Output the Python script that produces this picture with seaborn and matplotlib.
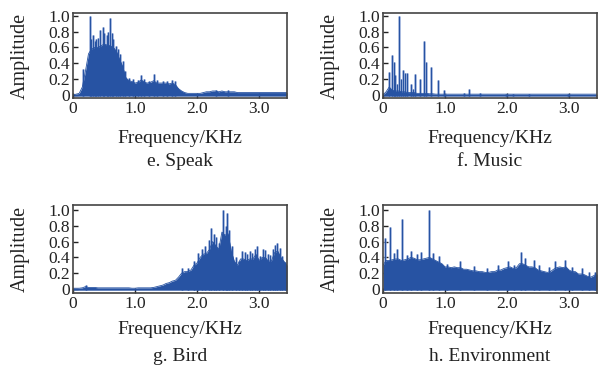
import numpy as np
import pandas as pd
import matplotlib
matplotlib.use("Agg")
import matplotlib.pyplot as plt
import seaborn as sns

# spectrum envelopes, one value every 0.05 kHz (0 .. 3.45)
STEP = 0.05

speak_body = [0.00, 0.01, 0.02, 0.10, 0.30, 0.52, 0.58, 0.60, 0.60, 0.62,
              0.64, 0.63, 0.62, 0.60, 0.55, 0.45, 0.36, 0.22, 0.18, 0.17,
              0.15, 0.16, 0.19, 0.16, 0.15, 0.16, 0.18, 0.15, 0.15, 0.15,
              0.15, 0.14, 0.15, 0.13, 0.08, 0.05, 0.03, 0.02, 0.02, 0.02,
              0.02, 0.02, 0.03, 0.04, 0.04, 0.05, 0.05, 0.04, 0.05, 0.04,
              0.04, 0.04, 0.04, 0.03, 0.03, 0.03, 0.03, 0.03, 0.03, 0.03,
              0.03, 0.03, 0.03, 0.03, 0.03, 0.03, 0.03, 0.03, 0.03, 0.03]
speak_peak_f = [0.16, 0.27, 0.29, 0.32, 0.35, 0.37, 0.41, 0.44, 0.48, 0.50,
                0.54, 0.57, 0.60, 0.63, 0.65, 0.69, 0.72, 0.76, 0.80, 0.84,
                0.90, 0.97, 1.05, 1.10, 1.15, 1.22, 1.30, 1.36, 1.45, 1.52,
                1.60, 1.65, 2.30, 2.50]
speak_peak_a = [0.33, 1.00, 0.70, 0.75, 0.68, 0.71, 0.72, 0.82, 0.86, 0.78,
                0.75, 0.80, 0.97, 0.78, 0.71, 0.62, 0.58, 0.52, 0.43, 0.30,
                0.21, 0.20, 0.19, 0.25, 0.20, 0.18, 0.26, 0.19, 0.18, 0.18,
                0.19, 0.17, 0.06, 0.06]

music_body = [0.00, 0.04, 0.10, 0.06, 0.05, 0.05, 0.04, 0.04, 0.03, 0.03,
              0.03, 0.02, 0.02, 0.02, 0.02, 0.015, 0.015, 0.01, 0.01, 0.01,
              0.01, 0.01, 0.01, 0.01, 0.01, 0.01, 0.01, 0.01, 0.01, 0.01,
              0.01, 0.01, 0.01, 0.01, 0.01, 0.01, 0.01, 0.01, 0.01, 0.01,
              0.01, 0.01, 0.01, 0.01, 0.01, 0.01, 0.01, 0.01, 0.01, 0.01,
              0.01, 0.01, 0.01, 0.01, 0.01, 0.01, 0.01, 0.01, 0.01, 0.01,
              0.01, 0.01, 0.01, 0.01, 0.01, 0.01, 0.01, 0.01, 0.01, 0.01]
music_peak_f = [0.10, 0.14, 0.18, 0.20, 0.23, 0.26, 0.29, 0.33, 0.35, 0.39,
                0.45, 0.48, 0.52, 0.59, 0.66, 0.69, 0.78, 0.88, 0.98, 1.31,
                1.39, 1.56, 1.99, 2.10, 2.36, 2.99]
music_peak_a = [0.29, 0.50, 0.42, 0.25, 0.14, 1.00, 0.20, 0.31, 0.28, 0.28,
                0.14, 0.08, 0.27, 0.20, 0.68, 0.42, 0.35, 0.19, 0.06, 0.02,
                0.08, 0.03, 0.015, 0.015, 0.01, 0.01]

bird_body = [0.01, 0.01, 0.01, 0.015, 0.03, 0.02, 0.02, 0.02, 0.015, 0.015,
             0.015, 0.015, 0.015, 0.015, 0.015, 0.015, 0.015, 0.015, 0.015, 0.01,
             0.01, 0.015, 0.015, 0.015, 0.015, 0.015, 0.02, 0.03, 0.04, 0.05,
             0.07, 0.08, 0.10, 0.11, 0.15, 0.20, 0.22, 0.22, 0.24, 0.30,
             0.33, 0.40, 0.44, 0.45, 0.50, 0.60, 0.55, 0.50, 0.72, 0.68,
             0.70, 0.48, 0.35, 0.30, 0.38, 0.38, 0.36, 0.38, 0.38, 0.44,
             0.36, 0.40, 0.40, 0.35, 0.36, 0.46, 0.48, 0.40, 0.35, 0.30]
bird_peak_f = [0.21, 1.76, 1.86, 1.95, 2.02, 2.08, 2.13, 2.19, 2.23, 2.27,
               2.30, 2.35, 2.42, 2.46, 2.48, 2.51, 2.56, 2.62, 2.67, 2.73,
               2.78, 2.81, 2.85, 2.89, 2.93, 2.97, 3.02, 3.06, 3.10, 3.14,
               3.18, 3.22, 3.25, 3.29, 3.33, 3.37, 3.42]
bird_peak_a = [0.05, 0.26, 0.27, 0.36, 0.45, 0.50, 0.54, 0.62, 0.77, 0.70,
               0.66, 0.58, 1.00, 0.80, 0.96, 0.75, 0.55, 0.40, 0.36, 0.48,
               0.47, 0.44, 0.48, 0.46, 0.50, 0.55, 0.42, 0.50, 0.49, 0.44,
               0.43, 0.50, 0.56, 0.58, 0.52, 0.42, 0.34]

env_body = [0.30, 0.36, 0.36, 0.37, 0.38, 0.38, 0.36, 0.37, 0.38, 0.40,
            0.39, 0.37, 0.37, 0.38, 0.39, 0.40, 0.38, 0.36, 0.34, 0.32,
            0.28, 0.28, 0.27, 0.28, 0.27, 0.27, 0.25, 0.25, 0.24, 0.23,
            0.23, 0.22, 0.22, 0.21, 0.21, 0.22, 0.22, 0.24, 0.24, 0.26,
            0.27, 0.28, 0.26, 0.27, 0.32, 0.32, 0.30, 0.28, 0.28, 0.27,
            0.24, 0.23, 0.22, 0.21, 0.22, 0.25, 0.27, 0.28, 0.27, 0.28,
            0.24, 0.22, 0.22, 0.19, 0.19, 0.18, 0.16, 0.15, 0.17, 0.19]
env_peak_f = [0.04, 0.12, 0.18, 0.22, 0.31, 0.38, 0.45, 0.55, 0.62, 0.74,
              0.80, 0.90, 1.03, 1.24, 1.46, 1.67, 1.86, 2.02, 2.12, 2.23,
              2.29, 2.43, 2.52, 2.67, 2.78, 2.94, 3.05, 3.21, 3.32, 3.42]
env_peak_a = [0.65, 0.79, 0.45, 0.50, 0.88, 0.43, 0.48, 0.44, 0.47, 1.00,
              0.46, 0.42, 0.32, 0.35, 0.29, 0.27, 0.30, 0.35, 0.31, 0.47,
              0.39, 0.37, 0.30, 0.28, 0.35, 0.37, 0.28, 0.27, 0.22, 0.22]

captions = ["e. Speak", "f. Music", "g. Bird", "h. Environment"]
freq = np.round(np.arange(len(speak_body)) * STEP, 2)

panels = [(speak_body, speak_peak_f, speak_peak_a),
          (music_body, music_peak_f, music_peak_a),
          (bird_body, bird_peak_f, bird_peak_a),
          (env_body, env_peak_f, env_peak_a)]

blue = "#2753a3"
light = "#8ea6d6"

sns.set_theme(style="ticks")
plt.rcParams["font.family"] = ["Liberation Serif", "DejaVu Serif"]

fig = plt.figure(figsize=(6, 3.72), dpi=100)
boxes = [[0.1217, 0.7358, 0.3567, 0.2285], [0.6383, 0.7358, 0.3567, 0.2285],
         [0.1217, 0.2116, 0.3567, 0.2374], [0.6383, 0.2116, 0.3567, 0.2374]]
ylims = [(-0.042, 1.03), (-0.042, 1.03), (-0.054, 1.063), (-0.054, 1.063)]
xlab_y = [1 - 130 / 372, 1 - 130 / 372, 1 - 321.5 / 372, 1 - 321.5 / 372]
cap_y = [1 - 153 / 372, 1 - 153 / 372, 1 - 348 / 372, 1 - 348 / 372]

for i, (body, pf, pa) in enumerate(panels):
    ax = fig.add_axes(boxes[i])
    df = pd.DataFrame({"f": freq, "a": body})
    # light fringe under the body, dark core on top
    ax.vlines(pf, -0.015, pa, color=light, lw=1.8, alpha=0.9, zorder=1)
    ax.fill_between(df["f"], -0.015, df["a"], color=blue, lw=0, zorder=2)
    sns.lineplot(data=df, x="f", y="a", ax=ax, color=blue, lw=0.6, zorder=2)
    ax.vlines(pf, -0.015, pa, color=blue, lw=0.8, zorder=3)
    ax.set_xlim(0, 3.45)
    ax.set_ylim(*ylims[i])
    ax.set_xticks([0, 1, 2, 3])
    ax.set_xticklabels(["0", "1.0", "2.0", "3.0"])
    ax.set_yticks([0, 0.2, 0.4, 0.6, 0.8, 1.0])
    ax.set_yticklabels(["0", "0.2", "0.4", "0.6", "0.8", "1.0"])
    ax.tick_params(direction="in", length=3.5, width=1, labelsize=12.5,
                   pad=2, colors="#222222", top=False, right=False)
    for s in ax.spines.values():
        s.set_color("#444444")
        s.set_linewidth(1.2)
    ax.set_xlabel("")
    ax.set_ylabel("Amplitude", fontsize=14.5, color="#222222")
    ax.yaxis.set_label_coords(-0.2, 0.5)
    cx = boxes[i][0] + boxes[i][2] / 2
    fig.text(cx, xlab_y[i], "Frequency/KHz", ha="center", va="top",
             fontsize=14, color="#222222")
    fig.text(cx, cap_y[i], captions[i], ha="center", va="top",
             fontsize=14, color="#222222")

fig.savefig("out.png", dpi=100)
